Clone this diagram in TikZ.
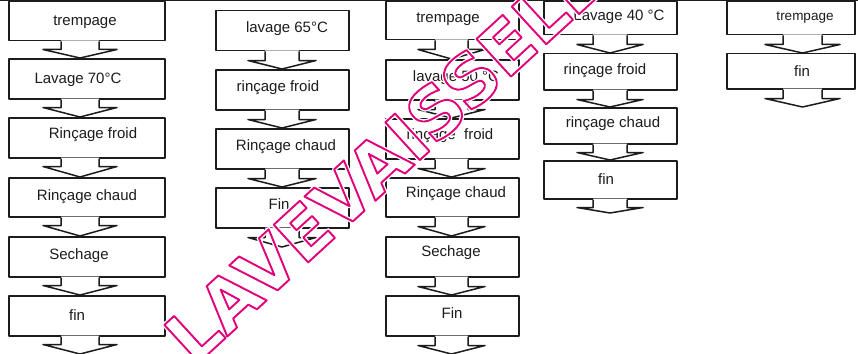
\documentclass[tikz,border=0pt]{standalone}
\usepackage{fontspec}
\setmainfont{Liberation Sans}
\newfontfamily\wmfont{DejaVu Sans}
\usetikzlibrary{calc}
\definecolor{ink}{RGB}{28,28,28}
\definecolor{wmcol}{RGB}{226,0,122}
\tikzset{
  boxline/.style={draw=ink, line width=1.5pt, line join=round},
  box/.style={boxline, rectangle, inner sep=0pt, anchor=north west},
  lbl/.style={text=ink, inner sep=0pt, font=\fontsize{15}{18}\selectfont},
  col1/.style={box, minimum width=156pt},
  colw/.style={box, minimum width=133pt},
  col5/.style={box, minimum width=128pt},
  wmstyle/.style={inner sep=0pt, anchor=base west, rotate=42.5, font=\wmfont\bfseries\fontsize{70}{70}\selectfont},
}
\newcommand{\outlinetext}[1]{\special{pdf:literal direct 1 Tr 1.9 w 1 j 0.886 0 0.478 RG}#1\special{pdf:literal direct 0 Tr}}
\newcommand{\halotext}[1]{\special{pdf:literal direct 1 Tr 4.6 w 1 j 1 1 1 RG}#1\special{pdf:literal direct 0 Tr}}
% #1 from node, #2 target point, #3 shaft centre x, #4 shaft half width, #5 head half width, #6 neck length
\newcommand{\flowarrow}[6]{%
  \path let \p1=(#1.south), \p2=(#2) in
    [fill=white] ({(#3-#4)*1pt},{\y1+1pt}) -- ({(#3-#4)*1pt},{\y1-#6pt}) -- ({(#3-#5)*1pt},{\y1-#6pt})
      -- ({#3pt},{\y2}) -- ({(#3+#5)*1pt},{\y1-#6pt}) -- ({(#3+#4)*1pt},{\y1-#6pt}) -- ({(#3+#4)*1pt},{\y1+1pt}) -- cycle;
  \draw[boxline] let \p1=(#1.south), \p2=(#2) in
    ({(#3-#4)*1pt},{\y1}) -- ({(#3-#4)*1pt},{\y1-#6pt}) -- ({(#3-#5)*1pt},{\y1-#6pt})
      -- ({#3pt},{\y2}) -- ({(#3+#5)*1pt},{\y1-#6pt}) -- ({(#3+#4)*1pt},{\y1-#6pt}) -- ({(#3+#4)*1pt},{\y1});
}
\begin{document}
\begin{tikzpicture}[x=1pt,y=1pt]
\useasboundingbox (0,0) rectangle (858,-353);
\clip (0,0) rectangle (858,-353);
\fill[white] (0,0) rectangle (858,-353);

% top rule
\draw[boxline] (0,-0.7) -- (858,-0.7);

% column 1
\node[col1, minimum height=39.3pt] (a1) at (8,-0.7) {};
\node[col1, minimum height=40pt] (a2) at (8,-58) {};
\node[col1, minimum height=40pt] (a3) at (8,-117) {};
\node[col1, minimum height=39pt] (a4) at (8,-177) {};
\node[col1, minimum height=40pt] (a5) at (8,-236) {};
\node[col1, minimum height=40pt] (a6) at (8,-295) {};
\coordinate (e1) at (80,-354);
\node[lbl] (ta1) at (85,-22) {trempage};
\node[lbl] (ta2) at (78,-80) {Lavage 70°C};
\node[lbl] (ta3) at (93,-135) {Rinçage froid};
\node[lbl] (ta4) at (87,-197) {Rinçage chaud};
\node[lbl] (ta5) at (79,-256) {Sechage};
\node[lbl] (ta6) at (77,-315) {fin};
\flowarrow{a1}{a2.north}{80}{19}{37}{8}
\flowarrow{a2}{a3.north}{80}{19}{37}{8}
\flowarrow{a3}{a4.north}{80}{19}{37}{8}
\flowarrow{a4}{a5.north}{80}{19}{37}{8}
\flowarrow{a5}{a6.north}{80}{19}{37}{8}
\flowarrow{a6}{e1}{80}{19}{37}{8}

% column 2
\node[colw, minimum height=40pt] (b1) at (215,-10) {};
\node[colw, minimum height=40pt] (b2) at (215,-69) {};
\node[colw, minimum height=40pt] (b3) at (215,-128) {};
\node[colw, minimum height=40pt] (b4) at (215,-187) {};
\coordinate (e2) at (282,-247);
\node[lbl] (tb1) at (287,-29) {lavage 65°C};
\node[lbl] (tb2) at (278,-88) {rinçage froid};
\node[lbl] (tb3) at (286,-147) {Rinçage chaud};
\node[lbl] (tb4) at (279,-204) {Fin};
\flowarrow{b1}{b2.north}{282}{17}{34}{9}
\flowarrow{b2}{b3.north}{282}{17}{34}{9}
\flowarrow{b3}{b4.north}{282}{17}{34}{9}
\flowarrow{b4}{e2}{282}{17}{34}{9}

% column 3
\node[colw, minimum height=38.3pt] (c1) at (385,-0.7) {};
\node[colw, minimum height=40pt] (c2) at (385,-59) {};
\node[colw, minimum height=40pt] (c3) at (385,-118) {};
\node[colw, minimum height=39pt] (c4) at (385,-177) {};
\node[colw, minimum height=40pt] (c5) at (385,-236) {};
\node[colw, minimum height=40pt] (c6) at (385,-295) {};
\coordinate (e3) at (451.5,-354);
\node[lbl] (tc1) at (448,-19) {trempage};
\node[lbl] (tc2) at (456,-78) {lavage 50 °C};
\node[lbl] (tc3) at (450,-136) {rinçage\ \ froid};
\node[lbl] (tc4) at (456,-194) {Rinçage chaud};
\node[lbl] (tc5) at (451,-253) {Sechage};
\node[lbl] (tc6) at (452,-313) {Fin};
\flowarrow{c1}{c2.north}{451.5}{16.5}{33.5}{9}
\flowarrow{c2}{c3.north}{451.5}{16.5}{33.5}{9}
\flowarrow{c3}{c4.north}{451.5}{16.5}{33.5}{9}
\flowarrow{c4}{c5.north}{451.5}{16.5}{33.5}{9}
\flowarrow{c5}{c6.north}{451.5}{16.5}{33.5}{9}
\flowarrow{c6}{e3}{451.5}{16.5}{33.5}{9}

% column 4
\node[colw, minimum height=33.3pt] (d1) at (543,-0.7) {};
\node[colw, minimum height=36pt] (d2) at (543,-53) {};
\node[colw, minimum height=36pt] (d3) at (543,-107) {};
\node[colw, minimum height=38pt] (d4) at (543,-160) {};
\coordinate (e4) at (610,-213);
\node[lbl] (td1) at (619,-17) {Lavage 40 °C};
\node[lbl] (td2) at (605,-71) {rinçage froid};
\node[lbl] (td3) at (613,-124) {rinçage chaud};
\node[lbl] (td4) at (606,-179) {fin};
\flowarrow{d1}{d2.north}{610}{17}{33}{9}
\flowarrow{d2}{d3.north}{610}{17}{33}{9}
\flowarrow{d3}{d4.north}{610}{17}{33}{8}
\flowarrow{d4}{e4}{610}{17}{33}{8}

% column 5
\node[col5, minimum height=33.3pt] (f1) at (726,-0.7) {};
\node[col5, minimum height=35pt] (f2) at (726,-53) {};
\coordinate (e5) at (802.5,-107);
\node[lbl, font=\fontsize{13.5}{16}\selectfont] (tf1) at (805,-18) {trempage};
\node[lbl] (tf2) at (802,-71) {fin};
\flowarrow{f1}{f2.north}{802.5}{19.5}{37.5}{9}
\flowarrow{f2}{e5}{802.5}{19.5}{37.5}{9}

% watermark: white halo, then magenta outline
\node[wmstyle] (wmhalo) at (194,-367) {\halotext{LAVEVAISSELLE}};
\node[wmstyle] (wm) at (194,-367) {\outlinetext{LAVEVAISSELLE}};
\end{tikzpicture}
\end{document}
